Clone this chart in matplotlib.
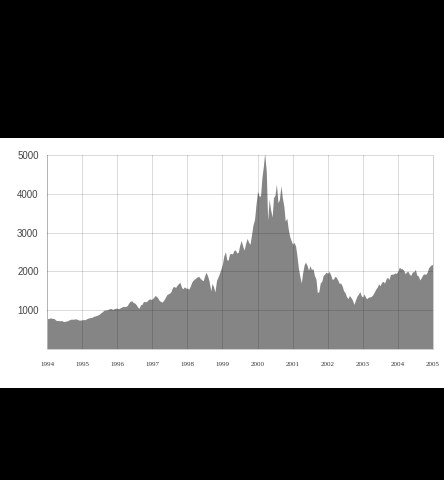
import matplotlib
matplotlib.use("Agg")
import matplotlib.pyplot as plt
import numpy as np
import pandas as pd

# index level, read twice a month (1st and 15th) off the reference
v1994 = [777, 785, 800, 795, 790, 785, 745, 730, 735, 725, 735, 715,
         705, 720, 725, 745, 765, 770, 765, 775, 775, 760, 745, 745]
v1995 = [752, 760, 755, 775, 795, 800, 815, 815, 845, 850, 865, 880,
         900, 935, 960, 1000, 1005, 1010, 1025, 1040, 1045, 1020, 1040, 1050]
v1996 = [1052, 1040, 1060, 1080, 1100, 1090, 1100, 1120, 1190, 1230, 1243, 1200,
         1185, 1150, 1081, 1050, 1141, 1150, 1227, 1220, 1222, 1260, 1293, 1280]
v1997 = [1291, 1330, 1380, 1350, 1309, 1250, 1222, 1210, 1261, 1320, 1400, 1420,
         1442, 1480, 1594, 1610, 1587, 1640, 1686, 1720, 1593, 1550, 1601, 1570]
v1998 = [1570, 1540, 1619, 1720, 1771, 1800, 1835, 1860, 1868, 1820, 1779, 1760,
         1895, 1980, 1873, 1750, 1499, 1690, 1600, 1470, 1771, 1850, 1950, 2050]
v1999 = [2193, 2400, 2506, 2300, 2288, 2450, 2461, 2450, 2543, 2550, 2471, 2500,
         2686, 2800, 2638, 2550, 2739, 2850, 2746, 2700, 2966, 3200, 3336, 3700]
v2000 = [4069, 3950, 3940, 4400, 4697, 5048, 4573, 3321, 3861, 3600, 3401, 3900,
         3966, 4250, 3767, 3850, 4206, 3900, 3673, 3300, 3370, 3100, 2900, 2800]
v2001 = [2700, 2750, 2650, 2400, 2100, 1900, 1700, 1960, 2170, 2240, 2150, 2030,
         2150, 2050, 2070, 1900, 1800, 1450, 1480, 1700, 1750, 1900, 1930, 1980]
v2002 = [1950, 2000, 1910, 1800, 1800, 1870, 1845, 1780, 1690, 1700, 1620, 1500,
         1450, 1350, 1300, 1380, 1320, 1260, 1150, 1250, 1360, 1410, 1480, 1380]
v2003 = [1336, 1420, 1320, 1300, 1340, 1340, 1360, 1400, 1470, 1540, 1600, 1680,
         1630, 1720, 1740, 1700, 1810, 1850, 1790, 1920, 1930, 1930, 1960, 1950]
v2004 = [2003, 2110, 2070, 2070, 2030, 1940, 1990, 2000, 1920, 1900, 1990, 1990,
         2050, 1910, 1880, 1780, 1840, 1910, 1940, 1920, 1980, 2090, 2140, 2170]
v2005 = [2175]

values = v1994 + v1995 + v1996 + v1997 + v1998 + v1999 + v2000 + v2001 + v2002 + v2003 + v2004 + v2005
dates = pd.date_range("1994-01-01", "2005-01-01", freq="SMS")
x = dates.year + (dates.dayofyear - 1) / 365.25

years = list(range(1994, 2006))
yticks = [1000, 2000, 3000, 4000, 5000]

fig = plt.figure(figsize=(4.44, 4.8), dpi=100, facecolor="black")

# white panel behind the chart
bg = fig.add_axes([0, 92 / 480, 1, 250 / 480])
bg.set_facecolor("white")
bg.set_xticks([])
bg.set_yticks([])
for s in bg.spines.values():
    s.set_visible(False)

ax = fig.add_axes([47 / 444, 1 - 349 / 480, 386 / 444, 194 / 480])
ax.set_facecolor("white")
ax.fill_between(x, values, 0, color="#858585", linewidth=0, zorder=1)

ax.set_xlim(1994, 2005)
ax.set_ylim(0, 5000)
ax.set_xticks(years)
ax.set_xticklabels([str(y) for y in years], family="Liberation Serif", fontsize=5, color="#333333")
ax.set_yticks(yticks)
ax.set_yticklabels([str(t) for t in yticks], family="Liberation Sans", fontsize=7, color="#444444")
ax.tick_params(length=0)
ax.tick_params(axis="x", pad=9)
ax.tick_params(axis="y", pad=6)
ax.grid(True, color="black", alpha=0.14, linewidth=0.7, zorder=3)
ax.set_axisbelow(False)
for s in ax.spines.values():
    s.set_color("#d0d0d0")
    s.set_linewidth(0.7)
ax.spines["top"].set_visible(False)

fig.savefig("out.png", dpi=100, facecolor="black")
